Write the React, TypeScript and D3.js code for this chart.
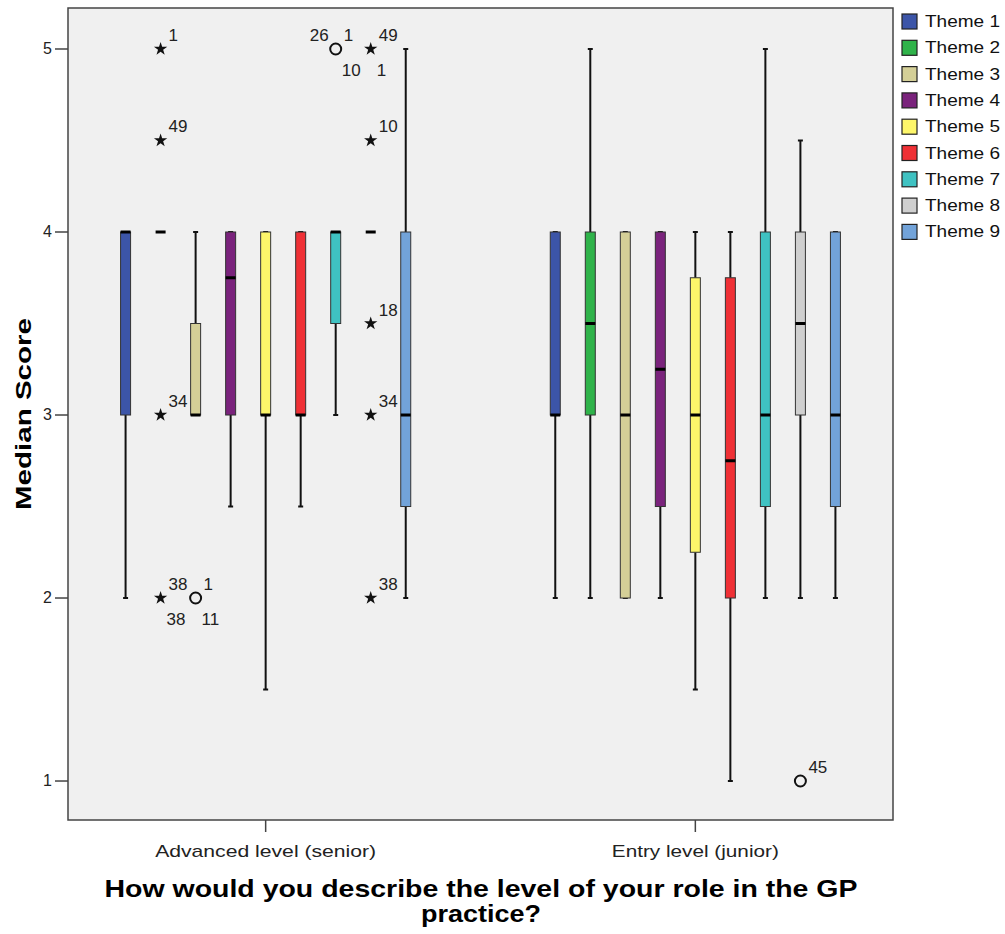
import React from 'react';
import * as d3 from 'd3';

// categories
const groups = ['Advanced level (senior)', 'Entry level (junior)'];
const themes = ['Theme 1', 'Theme 2', 'Theme 3', 'Theme 4', 'Theme 5', 'Theme 6', 'Theme 7', 'Theme 8', 'Theme 9'];
const themeColors = ['#3c55a8', '#2fb34a', '#d4cf97', '#7a237c', '#fdf66a', '#ef3035', '#3fc2c2', '#cfcfcf', '#72a3d9'];
const yTicks = [1, 2, 3, 4, 5];

// box stats per group, one entry per theme
const seniorLow = [2, 4, 3, 2.5, 1.5, 2.5, 3, 4, 2];
const seniorQ1 = [3, 4, 3, 3, 3, 3, 3.5, 4, 2.5];
const seniorMedian = [4, 4, 3, 3.75, 3, 3, 4, 4, 3];
const seniorQ3 = [4, 4, 3.5, 4, 4, 4, 4, 4, 4];
const seniorHigh = [4, 4, 4, 4, 4, 4, 4, 4, 5];

const juniorLow = [2, 2, 2, 2, 1.5, 1, 2, 2, 2];
const juniorQ1 = [3, 3, 2, 2.5, 2.25, 2, 2.5, 3, 2.5];
const juniorMedian = [3, 3.5, 3, 3.25, 3, 2.75, 3, 3.5, 3];
const juniorQ3 = [4, 4, 4, 4, 3.75, 3.75, 4, 4, 4];
const juniorHigh = [4, 5, 4, 4, 4, 4, 5, 4.5, 4];

// outliers: group index, theme index, value, kind, case labels (with placement)
type Lab = { text: string; pos: 'ur' | 'lr' | 'ul' };
const outliers: { g: number; t: number; v: number; kind: 'star' | 'circle'; labels: Lab[] }[] = [
  { g: 0, t: 1, v: 5, kind: 'star', labels: [{ text: '1', pos: 'ur' }] },
  { g: 0, t: 1, v: 4.5, kind: 'star', labels: [{ text: '49', pos: 'ur' }] },
  { g: 0, t: 1, v: 3, kind: 'star', labels: [{ text: '34', pos: 'ur' }] },
  { g: 0, t: 1, v: 2, kind: 'star', labels: [{ text: '38', pos: 'ur' }, { text: '38', pos: 'lr' }] },
  { g: 0, t: 2, v: 2, kind: 'circle', labels: [{ text: '1', pos: 'ur' }, { text: '11', pos: 'lr' }] },
  { g: 0, t: 6, v: 5, kind: 'circle', labels: [{ text: '26', pos: 'ul' }, { text: '1', pos: 'ur' }, { text: '10', pos: 'lr' }] },
  { g: 0, t: 7, v: 5, kind: 'star', labels: [{ text: '49', pos: 'ur' }, { text: '1', pos: 'lr' }] },
  { g: 0, t: 7, v: 4.5, kind: 'star', labels: [{ text: '10', pos: 'ur' }] },
  { g: 0, t: 7, v: 3.5, kind: 'star', labels: [{ text: '18', pos: 'ur' }] },
  { g: 0, t: 7, v: 3, kind: 'star', labels: [{ text: '34', pos: 'ur' }] },
  { g: 0, t: 7, v: 2, kind: 'star', labels: [{ text: '38', pos: 'ur' }] },
  { g: 1, t: 7, v: 1, kind: 'circle', labels: [{ text: '45', pos: 'ur' }] },
];

const stats = [
  { low: seniorLow, q1: seniorQ1, med: seniorMedian, q3: seniorQ3, high: seniorHigh },
  { low: juniorLow, q1: juniorQ1, med: juniorMedian, q3: juniorQ3, high: juniorHigh },
];

const W = 1005, H = 934;
const left = 68, right = 893, top = 8, bottom = 820;

export default function App() {
  const y = d3.scaleLinear().domain([0.787, 5.224]).range([bottom, top]);
  const x = d3.scalePoint<string>().domain(groups).range([left, right]).padding(0.46);
  const step = x.step();
  const inner = d3.scalePoint<string>().domain(themes).range([-0.326 * step, 0.326 * step]);
  const bw = 10;
  const star = d3.symbol().type(d3.symbolStar).size(55)() as string;
  const font = 'Arial, "Liberation Sans", sans-serif';

  return (
    <svg width={W} height={H} style={{ position: 'absolute', left: 0, top: 0, background: '#fff', overflow: 'visible' }}>
      <rect x={left} y={top} width={right - left} height={bottom - top} fill="#f0f0f0" />

      {/* boxes */}
      {stats.map((s, gi) =>
        themes.map((t, ti) => {
          const cx = (x(groups[gi]) as number) + (inner(t) as number);
          return (
            <g key={gi + '-' + ti}>
              <line x1={cx} x2={cx} y1={y(s.low[ti])} y2={y(s.q1[ti])} stroke="#111" strokeWidth={2} />
              <line x1={cx} x2={cx} y1={y(s.high[ti])} y2={y(s.q3[ti])} stroke="#111" strokeWidth={2} />
              <line x1={cx - 2.5} x2={cx + 2.5} y1={y(s.low[ti])} y2={y(s.low[ti])} stroke="#111" strokeWidth={2} />
              <line x1={cx - 2.5} x2={cx + 2.5} y1={y(s.high[ti])} y2={y(s.high[ti])} stroke="#111" strokeWidth={2} />
              <rect x={cx - bw / 2} y={y(s.q3[ti])} width={bw} height={y(s.q1[ti]) - y(s.q3[ti])}
                fill={themeColors[ti]} stroke="#333" strokeWidth={1} />
              <line x1={cx - bw / 2} x2={cx + bw / 2} y1={y(s.med[ti])} y2={y(s.med[ti])} stroke="#000" strokeWidth={3} />
            </g>
          );
        })
      )}

      {/* outliers */}
      {outliers.map((o, i) => {
        const cx = (x(groups[o.g]) as number) + (inner(themes[o.t]) as number);
        const cy = y(o.v);
        return (
          <g key={'o' + i}>
            {o.kind === 'star'
              ? <path d={star} transform={`translate(${cx},${cy})`} fill="#111" />
              : <circle cx={cx} cy={cy} r={5.5} fill="none" stroke="#111" strokeWidth={2} />}
            {o.labels.map((l, j) => (
              <text key={j} fontFamily={font} fontSize={17} fill="#222"
                x={l.pos === 'ul' ? cx - 7 : cx + (l.pos === 'lr' ? 6 : 8)}
                y={l.pos === 'lr' ? cy + 27 : cy - 8}
                textAnchor={l.pos === 'ul' ? 'end' : 'start'}>{l.text}</text>
            ))}
          </g>
        );
      })}

      <rect x={left} y={top} width={right - left} height={bottom - top} fill="none" stroke="#444" strokeWidth={1.5} />

      {/* y axis */}
      {yTicks.map(t => (
        <g key={t}>
          <line x1={left - 13} x2={left} y1={y(t)} y2={y(t)} stroke="#444" strokeWidth={1.5} />
          <text x={left - 16} y={y(t) + 5} textAnchor="end" fontFamily={font} fontSize={16} fill="#222">{t}</text>
        </g>
      ))}
      <text transform="translate(31,414) rotate(-90)" textAnchor="middle" fontFamily={font} fontWeight="bold"
        fontSize={22} textLength={192} lengthAdjust="spacingAndGlyphs">Median Score</text>

      {/* x axis */}
      {groups.map((g, i) => (
        <g key={g}>
          <line x1={x(g)} x2={x(g)} y1={bottom} y2={bottom + 12} stroke="#444" strokeWidth={1.5} />
          <text x={x(g)} y={857} textAnchor="middle" fontFamily={font} fontSize={17} fill="#222"
            textLength={i === 0 ? 221 : 167} lengthAdjust="spacingAndGlyphs">{g}</text>
        </g>
      ))}
      <text x={481} y={897} textAnchor="middle" fontFamily={font} fontWeight="bold" fontSize={24}
        textLength={753} lengthAdjust="spacingAndGlyphs">How would you describe the level of your role in the GP</text>
      <text x={481} y={922} textAnchor="middle" fontFamily={font} fontWeight="bold" fontSize={24}
        textLength={120} lengthAdjust="spacingAndGlyphs">practice?</text>

      {/* legend */}
      {themes.map((t, i) => (
        <g key={t} transform={`translate(902,${14 + i * 26.3})`}>
          <rect x={0} y={0} width={15} height={15} fill={themeColors[i]} stroke="#222" strokeWidth={1.2} />
          <text x={23} y={13} fontFamily={font} fontSize={17} fill="#111"
            textLength={75} lengthAdjust="spacingAndGlyphs">{t}</text>
        </g>
      ))}
    </svg>
  );
}
